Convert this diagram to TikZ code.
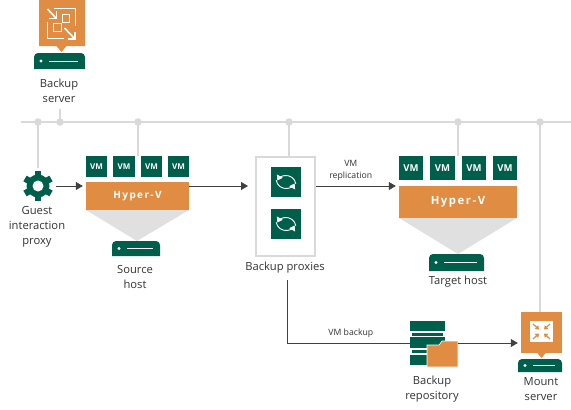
\documentclass[tikz,border=0pt]{standalone}
\usepackage{fontspec}
\setmainfont{Open Sans}
\newfontfamily\spacedfont[LetterSpace=14]{Open Sans}
\usetikzlibrary{
  arrows.meta,
  positioning,
  calc
}
\definecolor{VeeamOrange}{RGB}{224,140,66}
\definecolor{VeeamGreen} {RGB}{0,95,75}
\definecolor{BusGray}    {RGB}{217,217,217}
\definecolor{FunnelGray} {RGB}{223,224,223}
\definecolor{LineDark}   {RGB}{64,64,64}
\definecolor{LabelDark}  {RGB}{51,51,51}

\newcommand{\serverrack}[5]{% name, left, top, width, height
  \fill[VeeamGreen, rounded corners=4pt] (#2,#3+#5) -- (#2,#3) -- (#2+#4,#3)
    [sharp corners] -- (#2+#4,#3+#5) -- cycle;
  \fill[VeeamGreen] (#2,#3+#5-5) rectangle (#2+6,#3+#5);
  \fill[white] (#2+7,#3+#5/2) circle (1.7);
  \draw[white, line width=0.8] (#2+15,#3+#5/2) -- (#2+#4-7,#3+#5/2);
  \coordinate (#1) at (#2+#4/2,#3);
}

\begin{document}
\begin{tikzpicture}[
  x=1pt, y=-1pt,
  bus/.style={BusGray, line width=2pt},
  busdot/.style={circle, fill=BusGray, inner sep=0pt, minimum size=7.5pt},
  arr/.style={-{Triangle[length=7pt, width=8pt]}, color=LineDark, line width=0.8pt, shorten >=3pt},
  wire/.style={color=LineDark, line width=0.8pt},
  lbl/.style={font=\fontsize{11.2}{15}\selectfont, text=LabelDark, align=center, inner sep=0pt},
  conn/.style={font=\fontsize{8.7}{12}\selectfont, text=LabelDark, align=center, inner sep=0pt},
  vmbox/.style={rectangle, fill=VeeamGreen, text=white, inner sep=0pt},
  hyperbox/.style={rectangle, fill=VeeamOrange, text=white, inner sep=0pt},
  tile/.style={rectangle, fill=VeeamGreen, minimum size=30pt, inner sep=0pt},
  icon/.style={white, line width=1pt},
  boldicon/.style={white, line width=1.6pt},
  syncarc/.style={white, line width=0.9pt, -{Triangle[length=5pt, width=6.5pt]}}
]
\useasboundingbox (0,0) rectangle (571,410);

% bus
\coordinate (busleft) at (21,122);
\coordinate (busright) at (571,122);
\coordinate (stub) at (60,109);
\draw[bus] (busleft) -- (busright);

% backup server
\fill[VeeamOrange] (39,0) -- (85,0) -- (85,46) -- (66.5,46) -- (61.5,52) -- (56.5,46)
  -- (39,46) -- cycle;
\draw[icon] (54,8) -- (75.5,8) -- (75.5,26);
\draw[icon] (47,22) -- (47,38) -- (64,38);
\draw[icon] (62,14.5) rectangle (69.5,22);
\draw[icon] (53.5,23.5) rectangle (61,31);
\draw[boldicon] (47.5,9) -- (56,18);
\draw[boldicon] (49,18.5) -- (56.5,18.5) -- (56.5,11);
\draw[boldicon] (64.5,28) -- (74.5,38.5);
\draw[boldicon] (67.5,39) -- (75,39) -- (75,31.5);
\serverrack{bksrv}{34}{53}{51}{16}
\node[lbl] (bksrvlbl) at (59,91) {Backup\\server};

% guest interaction proxy
\node[circle, minimum size=36pt, inner sep=0pt] (proxy) at (38,186) {};
\foreach \ang in {30,90,...,330}
  \draw[VeeamGreen, line width=6.5pt] (proxy.center) -- ++(\ang:15);
\fill[VeeamGreen] (proxy.center) circle (11.5);
\fill[white] (proxy.center) circle (5.5);
\node[lbl] (proxylbl) at (37,227) {Guest\\interaction\\proxy};

% source host
\fill[FunnelGray] (86,210) -- (189,210) -- (137,241) -- cycle;
\foreach \name/\x in {a/96.5, b/124, c/151.5, d/178.5}
  \node[vmbox, minimum width=21.5pt, minimum height=21pt,
        font=\fontsize{8}{8}\selectfont\bfseries] (src\name) at (\x,166.5) {VM};
\node[hyperbox, minimum width=103pt, minimum height=28pt,
      font=\spacedfont\bfseries\fontsize{10}{10}\selectfont] (srchv) at (137.5,196) {Hyper-V};
\serverrack{srcsrv}{112}{241}{48}{15}
\node[lbl] (srclbl) at (135,276.5) {Source\\host};

% backup proxies
\node[rectangle, draw=BusGray, line width=2pt, fill=white, minimum width=59pt,
      minimum height=99pt, inner sep=0pt] (proxies) at (285.5,206.5) {};
\foreach \name/\y in {a/182, b/224} {
  \node[tile] (tile\name) at (286,\y) {};
  \draw[syncarc] (tile\name.center) ++(-170:10) arc (170:30:10);
  \draw[syncarc] (tile\name.center) ++(10:10) arc (-10:-150:10);
}
\node[lbl] (proxieslbl) at (285,267.5) {Backup proxies};

% target host
\fill[FunnelGray] (399,218) -- (517,218) -- (458,254) -- cycle;
\foreach \name/\x in {a/411, b/442.5, c/474, d/505}
  \node[vmbox, minimum width=24.5pt, minimum height=24pt,
        font=\fontsize{9.5}{10}\selectfont\bfseries] (tgt\name) at (\x,168) {VM};
\node[hyperbox, minimum width=118pt, minimum height=32pt,
      font=\spacedfont\bfseries\fontsize{11.3}{12}\selectfont] (tgthv) at (458,202) {Hyper-V};
\serverrack{tgtsrv}{429}{254}{55}{17}
\node[lbl] (tgtlbl) at (458,282) {Target host};

% backup repository
\node[inner sep=0pt, minimum width=48pt, minimum height=46pt] (repo) at (434,343) {};
\fill[VeeamGreen] (410,321) rectangle (445,331);
\fill[VeeamGreen] (412,333) rectangle (443,335.5);
\fill[VeeamGreen] (410,337) rectangle (445,348);
\fill[VeeamGreen] (412,350) rectangle (427,353);
\fill[VeeamGreen] (410,355) rectangle (427,365);
\fill[VeeamOrange, draw=white, line width=0.6pt] (427,345) -- (439,345) -- (442,341) -- (458,341)
  -- (458,367) -- (427,367) -- cycle;
\node[lbl] (repolbl) at (432,389.5) {Backup\\repository};

% mount server
\node[rectangle, fill=VeeamOrange, minimum width=41pt, minimum height=41pt, inner sep=0pt] (mount) at (541.5,332.5) {};
\fill[VeeamOrange] (536.5,352) -- (546.5,352) -- (541.5,358) -- cycle;
\fill[white] (530,321) rectangle (553,342);
\foreach \dx/\dy in {-1/-1, 1/-1, -1/1, 1/1}
  \draw[VeeamOrange, line width=1.2pt, -{Triangle[length=3.5pt, width=5pt]}]
    ($(541.5,331.5)+(\dx*8.5,\dy*7.5)$) -- ($(541.5,331.5)+(\dx*2.5,\dy*2)$);
\serverrack{mntsrv}{518}{359}{44}{13}
\node[lbl] (mountlbl) at (541,389.5) {Mount\\server};

% connections to bus
\draw[bus] (stub) -- (stub |- busleft);
\draw[bus] (proxy.north) -- (proxy.north |- busleft);
\draw[bus] (138,155.5) -- (138,122);
\draw[bus] (289,156) -- (289,122);
\draw[bus] (458,155.5) -- (458,122);
\draw[bus] (540,311.5) -- (540,122);
\foreach \x in {38,60,138,289,458,540}
  \node[busdot] (dot\x) at (\x,122) {};

% arrows
\draw[arr] (proxy.east) -- (proxy.east -| srchv.west);
\draw[arr, shorten >=7pt] (srchv.east |- proxy.east) -- (proxy.east -| proxies.west);
\draw[arr] (proxies.east |- proxy.east) -- (proxy.east -| tgthv.west)
  node[conn, pos=0.42, above=5.5pt] {VM\\replication};
\draw[wire] (proxieslbl.south) ++(2,7) |- (repo.west)
  node[conn, pos=0.76, above=5pt] {VM backup};
\draw[arr] (repo.east) -- (repo.east -| mount.west);

\end{tikzpicture}
\end{document}
